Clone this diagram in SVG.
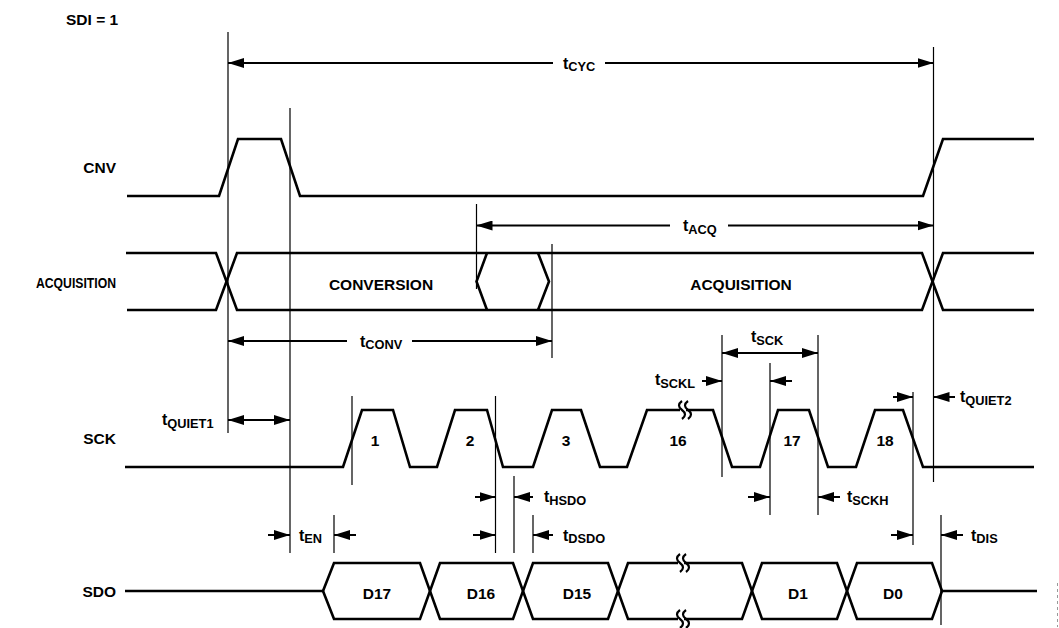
<svg xmlns="http://www.w3.org/2000/svg" width="1059" height="628" viewBox="0 0 1059 628">
<style>
text{font-family:"Liberation Sans",Arial,sans-serif;font-weight:bold;fill:#000}
.lbl{font-size:15.5px}
.row{font-size:15.5px;text-anchor:end}
.num{font-size:15.5px;text-anchor:middle}
.t{font-size:16px}
.sub{font-size:12.8px}
.wave{fill:none;stroke:#000;stroke-width:2.6;stroke-linejoin:miter}
.brk{fill:none;stroke:#000;stroke-width:2.2}
.ref{fill:none;stroke:#000;stroke-width:1.2}
.dim{fill:none;stroke:#000;stroke-width:2}
.a2{marker-start:url(#ah);marker-end:url(#ah)}
.ae{marker-end:url(#ah)}
</style>
<defs>
<marker id="ah" markerUnits="userSpaceOnUse" markerWidth="16" markerHeight="10" refX="16" refY="5" orient="auto-start-reverse">
<path d="M0,0 L16,5 L0,10 Z" fill="#000"/>
</marker>
</defs>
<rect width="1059" height="628" fill="#fff"/>

<g id="sdi-label"><text class="lbl" x="66" y="25">SDI = 1</text></g>

<g id="cnv">
<text class="row" x="116" y="173">CNV</text>
<path class="wave" d="M127,196 H219 L238,139 H281 L300,196 H923 L943,139 H1034"/>
</g>

<g id="acquisition">
<text class="row" x="116" y="288" style="font-size:14.5px" textLength="80" lengthAdjust="spacingAndGlyphs">ACQUISITION</text>
<path class="wave" d="M126,253 H216 L237,310 H922 L943,253 H1034"/>
<path class="wave" d="M127,310 H216 L237,253 H922 L943,310 H1034"/>
<path class="wave" d="M487,253 L476.5,281.5 L487,310 M538,253 L549,281.5 L538,310"/>
<text class="num" x="381" y="290">CONVERSION</text>
<text class="num" x="741" y="290">ACQUISITION</text>
</g>

<g id="sck">
<text class="row" x="116" y="444">SCK</text>
<path class="wave" d="M125,467 H343 L362,410 H393 L410,467 H437 L455,410 H487 L503,467 H533 L552,410 H581 L600,467 H627 L647,410 H713 L732,467 H760 L778,410 H809 L828,467 H856 L875,410 H903 L923,467 H1034"/>
<rect x="680" y="402" width="6" height="16" fill="#fff"/>
<path class="brk" d="M682,401 c-4,3 -4,6 0,9 c4,3 4,6 0,9 M688,401 c-4,3 -4,6 0,9 c4,3 4,6 0,9"/>
<text class="num" x="375" y="446">1</text>
<text class="num" x="470" y="446">2</text>
<text class="num" x="566" y="446">3</text>
<text class="num" x="678" y="446">16</text>
<text class="num" x="792" y="446">17</text>
<text class="num" x="885" y="446">18</text>
</g>

<g id="sdo">
<text class="row" x="116" y="597">SDO</text>
<path class="wave" d="M125,591 H323 M942,591 H1037"/>
<path class="wave" d="M323,591 L334,563 H420 L440,619 H513 L533,563 H608 L628,619 H742 L762,563 H837 L857,619 H932 L942,591"/>
<path class="wave" d="M323,591 L334,619 H420 L440,563 H513 L533,619 H608 L628,563 H742 L762,619 H837 L857,563 H932 L942,591"/>
<rect x="678" y="555" width="6" height="16" fill="#fff"/>
<rect x="678" y="611" width="6" height="16" fill="#fff"/>
<path class="brk" d="M680,554 c-4,3 -4,6 0,9 c4,3 4,6 0,9 M686,554 c-4,3 -4,6 0,9 c4,3 4,6 0,9 M680,610 c-4,3 -4,6 0,9 c4,3 4,6 0,9 M686,610 c-4,3 -4,6 0,9 c4,3 4,6 0,9"/>
<text class="num" x="377" y="599">D17</text>
<text class="num" x="481" y="599">D16</text>
<text class="num" x="577" y="599">D15</text>
<text class="num" x="798" y="599">D1</text>
<text class="num" x="893" y="599">D0</text>
</g>

<g id="connectors">
<path class="ref" d="M228,32 V433 M290,108 V553 M933.5,47 V482 M476.5,204 V289 M552,244 V358 M352,396 V485 M334,515 V553 M495.5,396 V553 M514,476 V553 M533,515 V553 M722,335 V477 M818,335 V515 M770,363 V515 M913,392 V545 M941,515 V625"/>
<line x1="1057.5" y1="583" x2="1057.5" y2="627" stroke="#999" stroke-width="1" stroke-dasharray="3,3"/>
<path class="dim" d="M228,63 H553" marker-start="url(#ah)"/>
<path class="dim ae" d="M605,63 H933.5"/>
<path class="dim" d="M476.5,225.5 H670" marker-start="url(#ah)"/>
<path class="dim ae" d="M728,225.5 H933.5"/>
<path class="dim" d="M228,341 H347" marker-start="url(#ah)"/>
<path class="dim ae" d="M412,341 H552"/>
<path class="dim a2" d="M228,420 H290"/>
<path class="dim a2" d="M722,353 H818"/>
<path class="dim ae" d="M702,381 H722"/>
<path class="dim ae" d="M792,381 H770"/>
<path class="dim ae" d="M893,397 H913"/>
<path class="dim ae" d="M955,397 H933.5"/>
<path class="dim ae" d="M475,497 H495.5"/>
<path class="dim ae" d="M533,497 H514"/>
<path class="dim ae" d="M748,497 H770"/>
<path class="dim ae" d="M840,497 H818"/>
<path class="dim ae" d="M268,535 H290"/>
<path class="dim ae" d="M356,535 H334"/>
<path class="dim ae" d="M473,535 H495.5"/>
<path class="dim ae" d="M553,535 H533"/>
<path class="dim ae" d="M891,535 H913"/>
<path class="dim ae" d="M963,535 H941"/>
</g>

<g id="timing-labels">
<text class="t" x="563" y="68.5">t<tspan class="sub" dy="2.5">CYC</tspan></text>
<text class="t" x="683" y="231">t<tspan class="sub" dy="2.5">ACQ</tspan></text>
<text class="t" x="360" y="346.5">t<tspan class="sub" dy="2.5">CONV</tspan></text>
<text class="t" x="162" y="425">t<tspan class="sub" dy="2.5">QUIET1</tspan></text>
<text class="t" x="751" y="342">t<tspan class="sub" dy="2.5">SCK</tspan></text>
<text class="t" x="655" y="385">t<tspan class="sub" dy="2.5">SCKL</tspan></text>
<text class="t" x="960" y="402">t<tspan class="sub" dy="2.5">QUIET2</tspan></text>
<text class="t" x="544" y="502">t<tspan class="sub" dy="2.5">HSDO</tspan></text>
<text class="t" x="847" y="502">t<tspan class="sub" dy="2.5">SCKH</tspan></text>
<text class="t" x="299" y="540.5">t<tspan class="sub" dy="2.5">EN</tspan></text>
<text class="t" x="563" y="540.5">t<tspan class="sub" dy="2.5">DSDO</tspan></text>
<text class="t" x="971" y="540.5">t<tspan class="sub" dy="2.5">DIS</tspan></text>
</g>
</svg>
